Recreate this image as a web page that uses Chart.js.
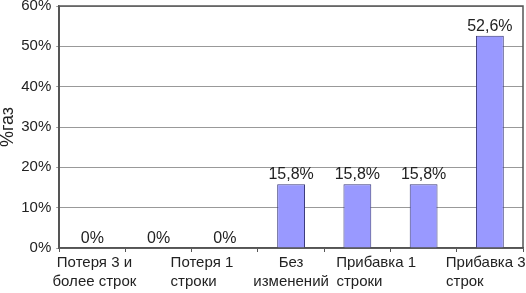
<!DOCTYPE html>
<html><head><meta charset="utf-8">
<script src="https://cdn.jsdelivr.net/npm/chart.js@4"></script>
<style>html,body{margin:0;padding:0;background:#fff}</style>
</head><body>
<canvas id="c" width="526" height="293"></canvas>
<script>
const categories = [["Потеря 3 и", "более строк"], "", ["Потеря 1", "строки"], ["Без", "изменений"], ["Прибавка 1", "строки"], "", ["Прибавка 3", "строк"]];
const values = [0, 0, 0, 15.8, 15.8, 15.8, 52.6];
const yTickValues = [0, 10, 20, 30, 40, 50, 60];
const yTitle = "%газ";

// styling: horizontal nudge of each category caption (px), as in the source layout
const captionNudge = [2, 0, -22, 0, 18, 0, -5];

const FONT = '"Liberation Sans", Arial, sans-serif';
const fmt = v => String(v).replace('.', ',') + '%';

const mctx = document.createElement('canvas').getContext('2d');
mctx.font = '15px ' + FONT;
const spW = mctx.measureText(' ').width;
function styleCaption(label, i) {
  if (!Array.isArray(label)) return label;
  const w = label.map(s => mctx.measureText(s).width);
  let lines = label.slice();
  // wrapped lines start under the first line when the first line is the longest
  if (w[0] >= Math.max(...w)) {
    lines = lines.map((s, k) => k === 0 ? s : s + ' '.repeat(Math.round((w[0] - w[k]) / spW)));
  }
  const n = Math.round(Math.abs(captionNudge[i] || 0) * 2 / spW);
  const pad = ' '.repeat(n);
  return lines.map(s => (captionNudge[i] > 0 ? pad + s : s + pad));
}

const frame = {
  id: 'frame',
  beforeDatasetsDraw(chart) {
    const a = chart.chartArea, ctx = chart.ctx;
    ctx.save();
    ctx.strokeStyle = '#555';
    ctx.lineWidth = 1.5;
    ctx.strokeRect(a.left, a.top, a.right - a.left, a.bottom - a.top);
    ctx.restore();
  }
};
const dataLabels = {
  id: 'dataLabels',
  afterDatasetsDraw(chart) {
    const ctx = chart.ctx;
    const meta = chart.getDatasetMeta(0);
    ctx.save();
    ctx.font = '16px ' + FONT;
    ctx.fillStyle = '#222';
    ctx.textAlign = 'center';
    ctx.textBaseline = 'alphabetic';
    meta.data.forEach((bar, i) => {
      ctx.fillText(fmt(chart.data.datasets[0].data[i]), bar.x, bar.y - 5);
    });
    ctx.restore();
  }
};

new Chart(document.getElementById('c'), {
  type: 'bar',
  data: {
    labels: categories,
    datasets: [{
      data: values,
      backgroundColor: '#9999ff',
      borderColor: '#3a3a7a',
      borderWidth: 1,
      categoryPercentage: 1,
      barPercentage: 0.42
    }]
  },
  options: {
    responsive: false,
    animation: false,
    layout: { padding: { top: 0, right: 3, left: 0, bottom: 0 } },
    plugins: { legend: { display: false }, tooltip: { enabled: false } },
    scales: {
      x: {
        afterFit(s) { s.paddingRight = 0; s.paddingLeft = 0; },
        grid: { display: true, drawOnChartArea: false, drawTicks: true, tickLength: 4, color: '#555', offset: true },
        border: { display: true, color: '#555', width: 1.5 },
        ticks: {
          color: '#222', font: { family: FONT, size: 15, lineHeight: 1.3 }, maxRotation: 0, autoSkip: false, padding: 1,
          callback(value, index) { return styleCaption(this.getLabelForValue(value), index); }
        }
      },
      y: {
        min: 0, max: 60,
        afterBuildTicks(axis) { axis.ticks = yTickValues.map(v => ({ value: v })); },
        afterFit(s) { s.paddingTop = 6; },
        grid: { color: '#999', lineWidth: 1, drawTicks: true, tickLength: 3 },
        border: { display: true, color: '#555', width: 1.5 },
        ticks: { color: '#222', font: { family: FONT, size: 15 }, padding: 5, callback: v => v + '%' },
        title: { display: true, text: yTitle, color: '#222', font: { family: FONT, size: 18, lineHeight: 0.9 }, padding: { top: 0, bottom: 0 } }
      }
    }
  },
  plugins: [frame, dataLabels]
});
</script>
</body></html>
